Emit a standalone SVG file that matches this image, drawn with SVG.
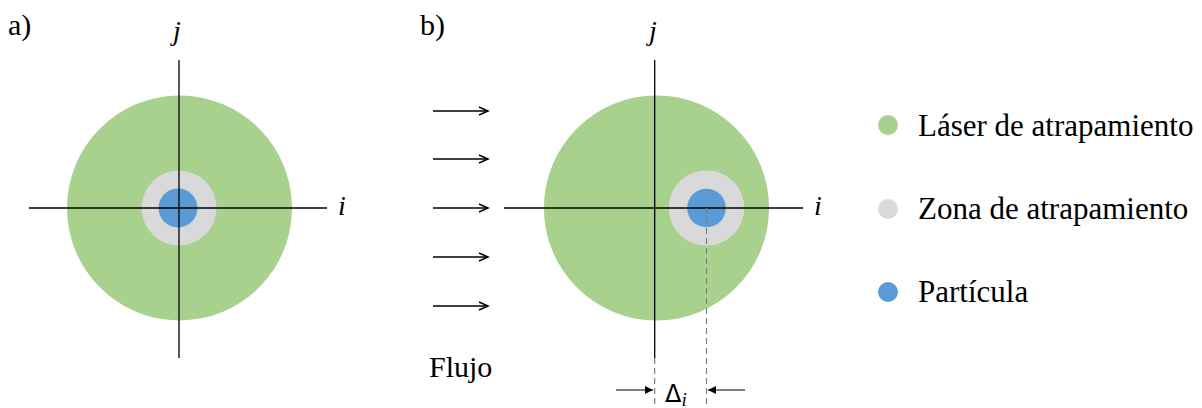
<svg xmlns="http://www.w3.org/2000/svg" width="1202" height="408" viewBox="0 0 1202 408">
<style>
.t{font-family:'Liberation Serif','Times New Roman','DejaVu Serif',serif;font-size:31px;fill:#000}
.it{font-style:italic;font-size:28px}
.laser{fill:#A9D18E}
.zona{fill:#D9D9D9}
.part{fill:#5B9BD5}
.ax{stroke:#000;stroke-width:1.3;fill:none}
.dash{stroke:#7f7f7f;stroke-width:1.2;stroke-dasharray:6 4;fill:none}
.flow{stroke:#000;stroke-width:1.5;fill:none}
</style>
<defs>
<marker id="open" markerWidth="12" markerHeight="12" refX="10" refY="5" orient="auto" markerUnits="userSpaceOnUse">
<path d="M1,1 L10,5 L1,9" fill="none" stroke="#000" stroke-width="1.5"/>
</marker>
<marker id="tri" markerWidth="10" markerHeight="10" refX="8" refY="4" orient="auto" markerUnits="userSpaceOnUse">
<path d="M0,0 L8,4 L0,8 Z" fill="#000"/>
</marker>
</defs>
<text class="t" x="8" y="35" font-family="Liberation Serif" style="font-size:30px">a)</text>
<text class="t" x="420" y="35" font-family="Liberation Serif" style="font-size:30px">b)</text>
<g id="diagram-a">
<circle class="laser" cx="179.5" cy="208" r="112.5"/>
<circle class="zona" cx="179" cy="208" r="37.5"/>
<circle class="part" cx="178" cy="208" r="19.5"/>
<line class="ax" x1="179" y1="60" x2="179" y2="358"/>
<line class="ax" x1="29" y1="208" x2="327" y2="208"/>
<text class="t it" x="173" y="40">j</text>
<text class="t it" x="338" y="215">i</text>
</g>
<g id="diagram-b">
<circle class="laser" cx="656.5" cy="208" r="112.6"/>
<circle class="zona" cx="706.5" cy="208" r="37.8"/>
<circle class="part" cx="706.5" cy="208" r="19.3"/>
<line class="ax" x1="654.7" y1="60" x2="654.7" y2="358"/>
<line class="ax" x1="504" y1="208" x2="803" y2="208"/>
<text class="t it" x="649" y="40">j</text>
<text class="t it" x="814" y="215">i</text>
</g>
<g id="connectors">
<line class="flow" x1="433" y1="111" x2="488" y2="111" marker-end="url(#open)"/>
<line class="flow" x1="433" y1="159" x2="488" y2="159" marker-end="url(#open)"/>
<line class="flow" x1="433" y1="208" x2="488" y2="208" marker-end="url(#open)"/>
<line class="flow" x1="433" y1="257" x2="488" y2="257" marker-end="url(#open)"/>
<line class="flow" x1="433" y1="306" x2="488" y2="306" marker-end="url(#open)"/>
<line class="dash" x1="654.7" y1="358" x2="654.7" y2="408"/>
<line class="dash" x1="706.5" y1="208" x2="706.5" y2="408"/>
<line stroke="#000" stroke-width="1" x1="616" y1="390" x2="653" y2="390" marker-end="url(#tri)"/>
<line stroke="#000" stroke-width="1" x1="745" y1="390" x2="708" y2="390" marker-end="url(#tri)"/>
</g>
<text class="t" x="429" y="377" style="font-size:30px">Flujo</text>
<text x="665" y="402" style="font-family:'DejaVu Sans','Liberation Sans',sans-serif;font-size:24px">Δ<tspan style="font-family:'Liberation Serif','DejaVu Serif',serif;font-style:italic;font-size:19px" dy="4">i</tspan></text>
<g id="legend-laser">
<circle class="laser" cx="888" cy="125" r="10"/>
<text class="t" x="918" y="136">Láser de atrapamiento</text>
</g>
<g id="legend-zona">
<circle class="zona" cx="888" cy="209" r="10"/>
<text class="t" x="918" y="219">Zona de atrapamiento</text>
</g>
<g id="legend-particula">
<circle class="part" cx="888" cy="292" r="10"/>
<text class="t" x="918" y="302">Partícula</text>
</g>
</svg>
